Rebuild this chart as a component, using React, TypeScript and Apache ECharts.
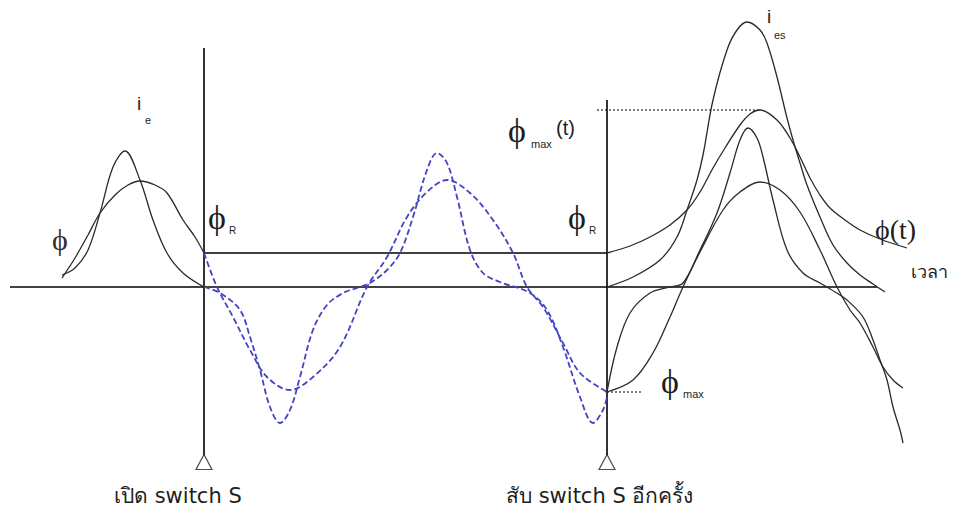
import React, { useEffect, useRef } from "react";
import * as echarts from "echarts";

// Time axis positions of the two switching events
const tOpen = 204;
const tClose = 607;
const tAxisStart = 10;
const tAxisEnd = 877;

// Reference flux levels (same units as the curves)
const phiR = 34;
const phiMax = 105;
const phiMaxT = 177;

// Before the switch is opened: flux and exciting current
const fluxBefore: [number, number][] = [
  [62, 9], [75, 29], [88, 52], [100, 74], [115, 92], [128, 102], [140, 106],
  [155, 102], [167, 94], [183, 67], [195, 50], [204, 34],
];
const currentBefore: [number, number][] = [
  [62, 12], [75, 19], [88, 37], [100, 74], [113, 120], [125, 136], [140, 107],
  [153, 67], [167, 34], [183, 14], [204, 0],
];

// While the switch is open (dashed traces)
const fluxOpen: [number, number][] = [
  [204, 34], [217, 0], [233, -30], [250, -63], [267, -90], [290, -103], [313, -90],
  [340, -60], [367, 0], [387, 30], [407, 70], [427, 95], [447, 107], [470, 94],
  [493, 67], [513, 34], [527, 0], [543, -20], [563, -56], [580, -86], [607, -105],
];
const currentOpen: [number, number][] = [
  [204, 0], [220, -6], [240, -23], [250, -50], [260, -83], [270, -120], [280, -136],
  [290, -123], [300, -90], [313, -43], [327, -18], [343, -6], [357, -1], [370, 4],
  [387, 17], [400, 34], [413, 70], [427, 117], [437, 134], [447, 124], [457, 90],
  [470, 37], [483, 14], [500, 5], [530, -6], [547, -23], [563, -60], [580, -110],
  [593, -136], [603, -123], [607, -110],
];

// After the switch is closed again
const fluxClosed: [number, number][] = [
  [607, 34], [630, 41], [650, 50], [670, 62], [687, 77], [700, 95], [713, 119],
  [725, 139], [740, 162], [750, 173], [760, 177], [777, 167], [790, 149], [800, 130],
  [810, 109], [820, 92], [830, 79], [845, 67], [860, 57], [880, 48], [907, 39],
];
const currentInrush: [number, number][] = [
  [607, 0], [633, 10], [660, 27], [677, 50], [687, 77], [697, 107], [703, 132],
  [713, 187], [727, 237], [737, 257], [747, 265], [760, 257], [767, 244], [777, 210],
  [787, 169], [793, 147], [800, 124], [807, 102], [820, 70], [833, 42], [847, 24],
  [860, 12], [873, 3], [885, -5],
];
const fluxSteady: [number, number][] = [
  [607, -105], [633, -93], [653, -66], [670, -30], [683, 0], [700, 35], [723, 77],
  [740, 95], [760, 105], [780, 97], [800, 75], [820, 37], [837, 0], [850, -23],
  [860, -36], [873, -60], [883, -80], [893, -93], [903, -101],
];
const currentSteady: [number, number][] = [
  [607, -105], [617, -60], [630, -26], [650, -6], [670, 0], [683, 4], [700, 37],
  [717, 74], [730, 114], [740, 147], [748, 159], [757, 149], [763, 130], [773, 87],
  [787, 37], [803, 14], [820, 4], [835, -5], [847, -13], [863, -30], [873, -53],
  [880, -73], [887, -93], [893, -120], [900, -143], [903, -156],
];

// Extents of the two vertical markers
const markerTop = [239, 187];
const markerBottom = -168;
const triangleLevel = -175;

const W = 962;
const H = 515;
const BASE_PX = 287; // pixel row of the zero line

const SANS = "'Liberation Sans', Arial, sans-serif";
const WIDE = "'DejaVu Sans', 'Liberation Sans', sans-serif";
const SERIF = "'Liberation Serif', 'Times New Roman', serif";
const INK = "#1e1e1e";
const CURVE = "#2a2a2a";
const BLUE = "#4343c4";

function curve(data: [number, number][], color: string, dashed = false) {
  return {
    type: "line",
    data,
    smooth: 0.35,
    showSymbol: false,
    silent: true,
    lineStyle: { color, width: dashed ? 1.8 : 1.3, type: dashed ? [6, 3] : "solid" },
  };
}

function straight(data: [number, number][], width = 1.6, type: any = "solid", color = "#000") {
  return {
    type: "line",
    data,
    smooth: false,
    showSymbol: false,
    silent: true,
    lineStyle: { color, width, type },
  };
}

function label(text: string, x: number, y: number, size: number, font = SANS, color = INK) {
  return {
    type: "text",
    x,
    y,
    silent: true,
    style: {
      text,
      fill: color,
      font: `${size}px ${font}`,
      textAlign: "left",
      textVerticalAlign: "top",
    },
  };
}

export default function App() {
  const ref = useRef<HTMLDivElement>(null);

  useEffect(() => {
    if (!ref.current) return;
    const chart = echarts.init(ref.current, undefined, { renderer: "svg" });
    chart.setOption({
      animation: false,
      backgroundColor: "#ffffff",
      grid: { left: 0, right: 0, top: 0, bottom: 0 },
      xAxis: { type: "value", min: 0, max: W, show: false },
      yAxis: { type: "value", min: BASE_PX - H, max: BASE_PX, show: false },
      series: [
        // axes and reference lines
        straight([[tAxisStart, 0], [tAxisEnd, 0]]),
        straight([[tOpen, markerTop[0]], [tOpen, markerBottom]]),
        straight([[tClose, markerTop[1]], [tClose, markerBottom]]),
        straight([[tOpen, phiR], [tClose, phiR]]),
        straight([[597, phiMaxT], [760, phiMaxT]], 1.2, [2, 2]),
        straight([[tClose, -phiMax], [643, -phiMax]], 1.2, [2, 2]),
        // waveforms
        curve(fluxBefore, CURVE),
        curve(currentBefore, CURVE),
        curve(fluxOpen, BLUE, true),
        curve(currentOpen, BLUE, true),
        curve(fluxClosed, CURVE),
        curve(currentInrush, CURVE),
        curve(fluxSteady, CURVE),
        curve(currentSteady, CURVE),
        // switch markers
        {
          type: "scatter",
          data: [[tOpen, triangleLevel], [tClose, triangleLevel]],
          symbol: "triangle",
          symbolSize: [16, 15],
          silent: true,
          itemStyle: { color: "#fff", borderColor: "#222", borderWidth: 1.2 },
        },
      ],
      graphic: [
        label("i", 137, 94, 19),
        label("e", 145, 114, 11),
        label("ϕ", 52, 224, 30, SERIF, "#3a2a22"),
        label("ϕ", 208, 200, 34, SERIF),
        label("R", 229, 225, 10),
        label("ϕ", 508, 113, 34, SERIF),
        label("max", 531, 138, 11),
        label("(t)", 556, 118, 20, SANS),
        label("ϕ", 568, 200, 34, SERIF),
        label("R", 589, 225, 10),
        label("i", 767, 7, 19),
        label("es", 774, 29, 11),
        label("ϕ(t)", 875, 215, 28, SERIF),
        label("เวลา", 911, 263, 18),
        label("ϕ", 661, 364, 34, SERIF),
        label("max", 683, 388, 11),
        label("เปิด switch S", 114, 485, 21, WIDE),
        label("สับ switch S อีกครั้ง", 506, 485, 21, WIDE),
      ],
    });
    return () => chart.dispose();
  }, []);

  return (
    <div
      ref={ref}
      style={{ position: "fixed", left: 0, top: 0, width: W, height: H, background: "#fff" }}
    />
  );
}
